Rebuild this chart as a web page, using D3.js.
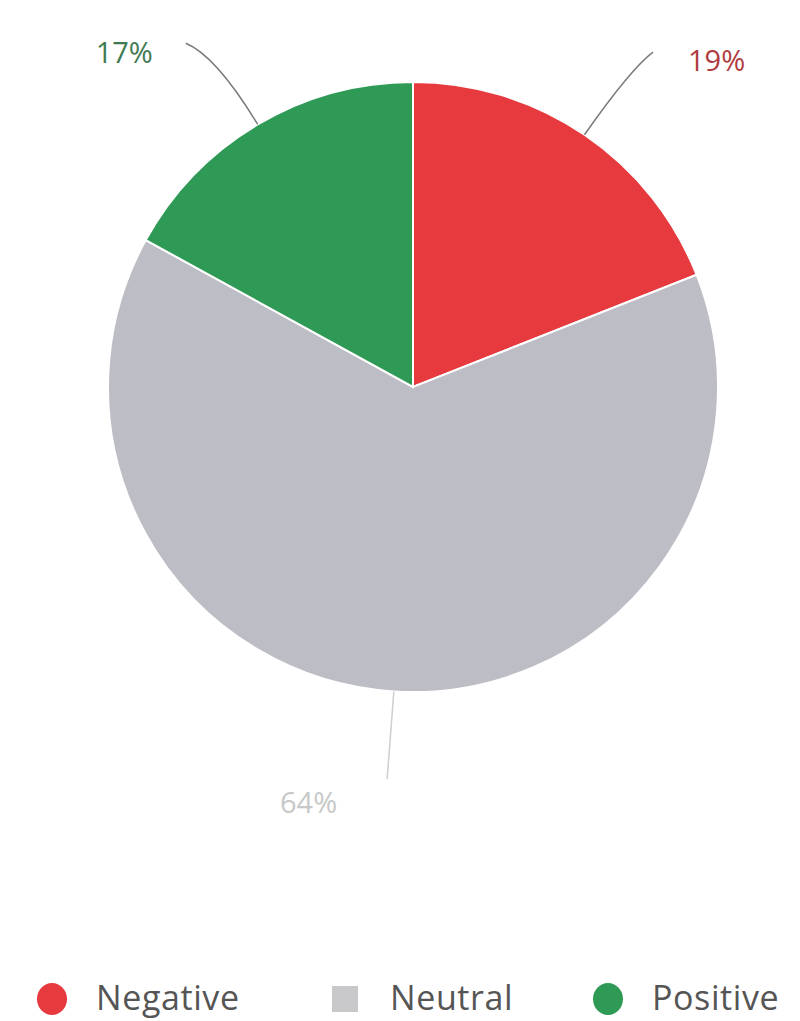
<!DOCTYPE html>
<html><head><meta charset="utf-8">
<script src="https://cdn.jsdelivr.net/npm/d3@7"></script>
<style>body{margin:0;background:#fff}svg{display:block}</style>
</head><body>
<svg id="c" width="800" height="1021"></svg>
<script>
const categories = ["Negative", "Neutral", "Positive"];
const values = [19, 64, 17];
const labels = ["19%", "64%", "17%"];
const colors = ["#e63a3f", "#bdbdc5", "#2f9a55"];
const labelColors = ["#b03c40", "#c8c8c8", "#3f7a52"];
const legendShapes = ["circle", "square", "circle"];

const svg = d3.select("#c");
const cx = 413, cy = 387, R = 305;
const data = categories.map((c, i) => ({cat: c, value: values[i], label: labels[i], color: colors[i], lc: labelColors[i], shape: legendShapes[i]}));
const pie = d3.pie().sort(null).value(d => d.value);
const arcs = pie(data);
const arc = d3.arc().innerRadius(0).outerRadius(R);
const g = svg.append("g").attr("transform", `translate(${cx},${cy})`);
g.selectAll("path.slice").data(arcs).join("path")
  .attr("class", "slice")
  .attr("d", arc)
  .attr("fill", d => d.data.color)
  .attr("stroke", "#fff").attr("stroke-width", 2);

const pt = (r, a) => [r * Math.sin(a), -r * Math.cos(a)];
arcs.forEach(d => {
  const m = (d.startAngle + d.endAngle) / 2;
  const p0 = pt(R, m);
  const isBottom = Math.cos(m) < -0.9;
  const right = Math.sin(m) > 0;
  let end, ctrl;
  if (isBottom) {
    end = pt(393, m + 0.003);
    ctrl = [(p0[0] + end[0]) / 2, (p0[1] + end[1]) / 2];
  } else {
    end = pt(412, m + (right ? 0.025 : -0.05));
    ctrl = pt(385, m);
    ctrl[0] = end[0] + (right ? -22 : 30);
  }
  g.append("path")
    .attr("d", `M${p0[0]},${p0[1]} Q${ctrl[0]},${ctrl[1]} ${end[0]},${end[1]}`)
    .attr("fill", "none").attr("stroke", isBottom ? "#cfcfcf" : "#7a7a7a").attr("stroke-width", 1.5);
  let tx, ty, anchor;
  if (isBottom) { tx = end[0] - 50; ty = end[1] + 34; anchor = "end"; }
  else if (right) { tx = end[0] + 35; ty = end[1] + 19; anchor = "start"; }
  else { tx = end[0] - 33; ty = end[1] + 20; anchor = "end"; }
  g.append("text").attr("x", tx).attr("y", ty)
    .attr("text-anchor", anchor)
    .attr("font-family", "'Open Sans', sans-serif").attr("font-size", 29)
    .attr("fill", d.data.lc).text(d.data.label);
});

// legend
const legX = [52, 345, 608];
const lg = svg.append("g");
data.forEach((d, i) => {
  const x = legX[i], y = 999;
  if (d.shape === "circle") {
    lg.append("ellipse").attr("cx", x).attr("cy", y).attr("rx", 15).attr("ry", 16).attr("fill", d.color);
  } else {
    lg.append("rect").attr("x", x - 13).attr("y", y - 13).attr("width", 26).attr("height", 26).attr("fill", "#c8c8ca");
  }
  lg.append("text").attr("x", x + (i === 1 ? 45 : 44)).attr("y", y + 11)
    .attr("font-family", "'Open Sans', sans-serif").attr("font-size", 34)
    .attr("letter-spacing", 0.6)
    .attr("fill", "#555").text(d.cat);
});
</script>
</body></html>
